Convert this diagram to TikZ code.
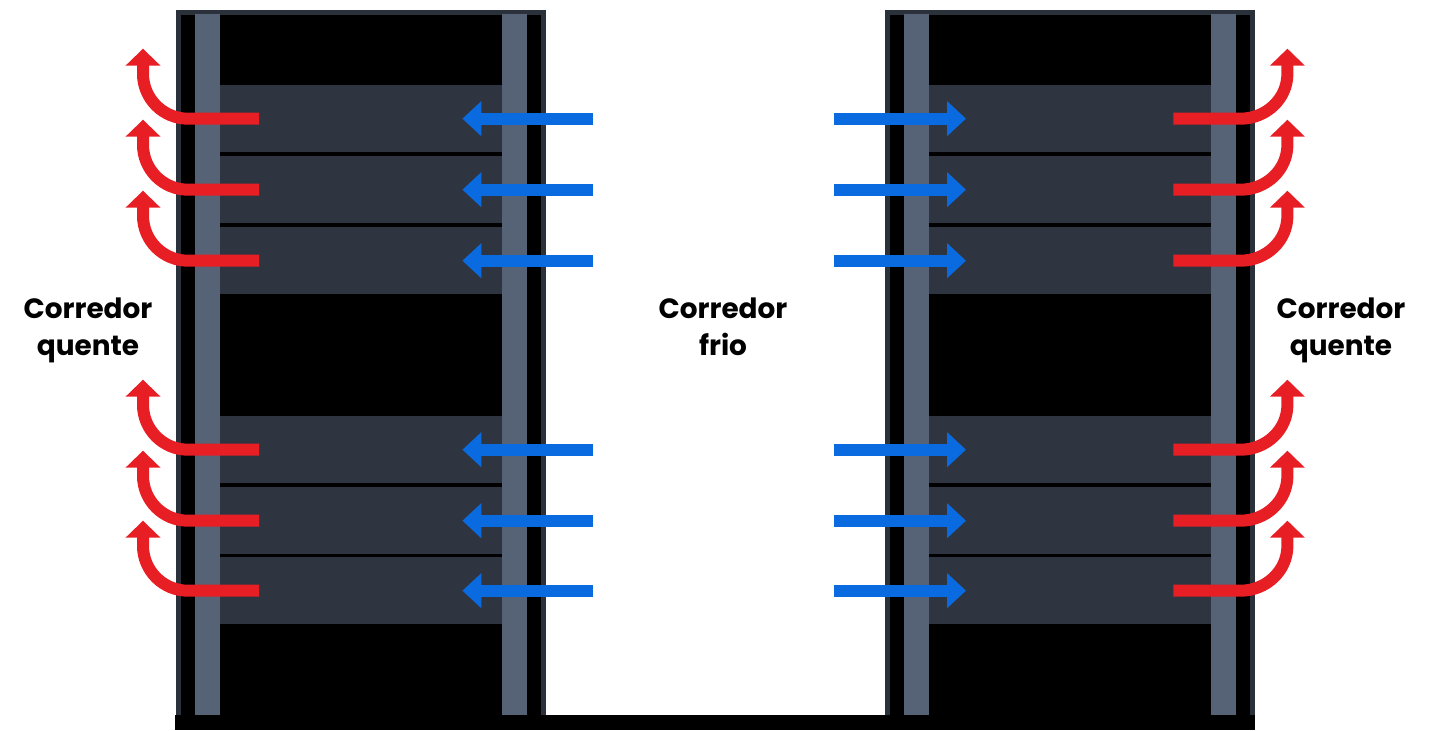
\documentclass[tikz,border=0pt]{standalone}
\usepackage{fontspec}
\setmainfont{Poppins}
\usetikzlibrary{arrows.meta,positioning}
\definecolor{quente}{HTML}{E81E25}
\definecolor{frio}{HTML}{0A6BE0}
\definecolor{trilho}{HTML}{566275}
\definecolor{servidor}{HTML}{2F3540}
\definecolor{moldura}{HTML}{2B313B}

\begin{document}
\begin{tikzpicture}[x=1bp,y=1bp,
  unidade/.style={fill=servidor, inner sep=0pt, minimum width=282bp, minimum height=67bp, anchor=north west},
  rotulo/.style={font=\bfseries\fontsize{28}{38}\selectfont, align=center, anchor=base},
  arquente/.style={-{Triangle[length=17bp,width=34bp]}, quente, line width=12bp},
  arfrio/.style={-{Triangle[length=19bp,width=34bp]}, frio, line width=12bp}]
\useasboundingbox (0,0) rectangle (1435,730);
\fill[moldura] (176,15) rectangle (546,720);
\fill[black] (181,15) rectangle (541,715);
\fill[moldura] (885,15) rectangle (1255,720);
\fill[black] (890,15) rectangle (1250,715);
\fill[black] (175,0) rectangle (1255,15);
\foreach \x in {195,502,904,1211}
  \fill[trilho] (\x,15) rectangle ++(25,701);
\foreach \n/\t in {1/645,2/574,3/503,4/314,5/243,6/173} {
  \node[unidade] (l\n) at (220,\t) {};
  \node[unidade] (r\n) at (929,\t) {};
}
\node[rotulo] (qesq) at (88,374) {Corredor\\quente};
\node[rotulo] (fmeio) at (723,374) {Corredor\\frio};
\node[rotulo] (qdir) at (1341,374) {Corredor\\quente};
\foreach \n in {1,...,6} {
  \draw[arquente] ([xshift=39bp]l\n.west) -- ++(-71,0) to[out=180,in=-90] ++(-45,45) -- ++(0,25);
  \draw[arfrio] ([xshift=91bp]l\n.east) -- ([xshift=-40bp]l\n.east);
  \draw[arfrio] ([xshift=-95bp]r\n.west) -- ([xshift=37bp]r\n.west);
  \draw[arquente] ([xshift=-38bp]r\n.east) -- ++(67,0) to[out=0,in=-90] ++(47,45) -- ++(0,25);
}
\end{tikzpicture}
\end{document}
